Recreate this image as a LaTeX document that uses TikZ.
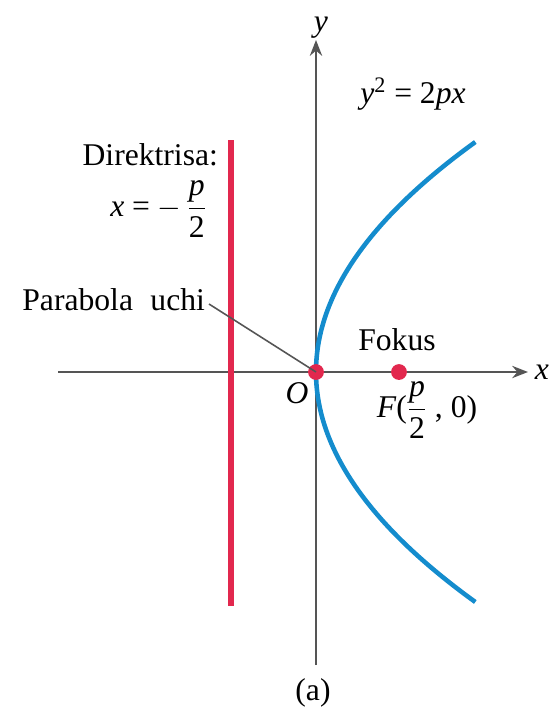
\documentclass[tikz,border=0pt]{standalone}
\usepackage{fontspec}
\setmainfont{Liberation Serif}
\usepackage{amsmath}
\usepackage{xcolor}
\usetikzlibrary{positioning,arrows.meta,calc}

\definecolor{dirred}{RGB}{226,40,78}
\definecolor{parblue}{RGB}{20,140,205}
\definecolor{axgray}{RGB}{85,85,85}

\newcommand{\vi}[1]{\textit{#1}}
\newcommand{\halfp}{\ensuremath{\dfrac{\text{\itshape p}}{\text{2}}}}

\begin{document}
\begin{tikzpicture}[x=0.02cm, y=-0.02cm,
    axis/.style={axgray, line width=1.1pt, -{Stealth[length=9pt,width=7pt]}},
    lbl/.style={font=\fontsize{18}{21}\selectfont, inner sep=1pt},
    pt/.style={circle, fill=dirred, inner sep=0pt, minimum size=9pt}]
    \useasboundingbox (0,0) rectangle (551,725);

    % axes
    \coordinate (xs) at (58,372);
    \coordinate (xe) at (528,372);
    \coordinate (ys) at (316,665);
    \coordinate (ye) at (316,40);
    \draw[axis] (xs) -- (xe);
    \draw[axis] (ys) -- (ye);
    \node[lbl] (xl) at (542,372) {\vi{x}};
    \node[lbl] (yl) at (321,28) {\vi{y}};

    % directrix
    \coordinate (dt) at (231,140);
    \coordinate (db) at (231,606);
    \draw[dirred, line width=3.2pt] (dt) -- (db);

    % parabola y^2 = 2px
    \draw[parblue, line width=2.6pt, domain=-2.3:2.3, samples=80, smooth]
        plot ({316+100*\x*\x/3.32},{372-100*\x});

    % vertex and focus
    \node[pt] (O) at (316,372) {};
    \node[pt] (F) at (399,372) {};

    % labels
    \node[lbl] (eq) at (413,94) {\vi{y}\textsuperscript{2} = 2\vi{px}};
    \node[lbl, anchor=east] (dir) at (220,155) {Direktrisa:};
    \node[lbl, anchor=east] (dirx) at (209,209) {\vi{x} = $-$\,\halfp};
    \node[lbl, anchor=east] (uchi) at (207,300) {Parabola\hspace{0.55em}uchi};
    \draw[axgray, line width=0.9pt] (uchi.east) ++(2,4) -- (O.center);
    \node[lbl] (fok) at (397,340) {Fokus};
    \node[lbl] (Fl) at (427,410) {\vi{F}(\halfp\ , 0)};
    \node[lbl] (Ol) at (297,393) {\vi{O}};
    \node[lbl] (cap) at (313,693) {(a)};
\end{tikzpicture}
\end{document}
